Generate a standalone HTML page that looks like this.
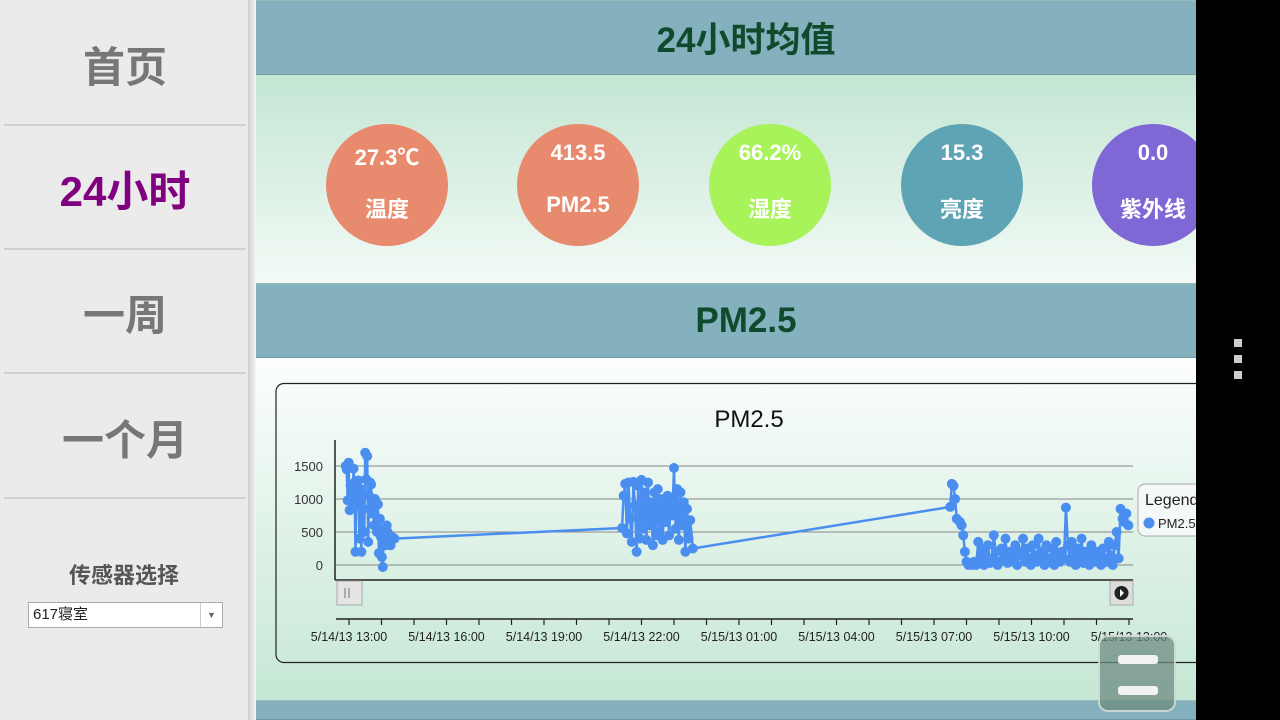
<!DOCTYPE html>
<html><head><meta charset="utf-8">
<style>
*{margin:0;padding:0;box-sizing:border-box}
html,body{width:1280px;height:720px;overflow:hidden}
body{position:relative;font-family:"Liberation Sans","Noto Sans CJK SC",sans-serif;background:#fff}
.side{position:absolute;left:0;top:0;width:248px;height:720px;background:#ebebeb}
.nav{position:absolute;left:4px;width:242px;height:122px;display:flex;align-items:center;justify-content:center;font-size:42px;font-weight:bold;color:#777;border-bottom:2px solid #d0d0d0}
.shadow{position:absolute;left:248px;top:0;width:8px;height:720px;background:linear-gradient(90deg,#cfcfcf,#f4f4f4)}
.bar{position:absolute;left:256px;width:980px;height:75px;background:#84b1bd;display:flex;align-items:center;justify-content:center;font-size:35px;font-weight:bold;color:#0f4a2c;border-top:1px solid #9bb;border-bottom:1px solid #6f9aa6;overflow:hidden}
.circ{position:absolute;width:122px;height:122px;border-radius:50%;color:#fff;font-weight:bold;font-size:22px;text-align:center}
.circ div{position:absolute;left:0;width:100%}
</style></head><body>
<div class="side">
<div class="nav" style="top:4px">首页</div>
<div class="nav" style="top:128px;color:#800080">24小时</div>
<div class="nav" style="top:252px">一周</div>
<div class="nav" style="top:377px">一个月</div>
<div style="position:absolute;left:0;width:248px;top:558px;text-align:center;font-size:22px;font-weight:bold;color:#555">传感器选择</div>
<div style="position:absolute;left:28px;top:602px;width:195px;height:26px;background:#fff;border:1px solid #aaa;font-size:15px;line-height:24px;padding-left:4px;color:#222">617寝室<span style="position:absolute;right:0;top:0;width:22px;height:24px;border-left:1px solid #ccc;font-size:9px;text-align:center;color:#666">▼</span></div>
</div>
<div class="shadow"></div>
<div class="bar" style="top:0">24小时均值</div>
<div style="position:absolute;left:256px;top:75px;width:940px;height:208px;background:linear-gradient(#c3e6d3,#f3faf6)"></div>
<div class="circ" style="left:326px;top:124px;background:#e88a6d"><div style="top:16px">27.3℃</div><div style="top:68px">温度</div></div>
<div class="circ" style="left:517px;top:124px;background:#e88a6d"><div style="top:16px">413.5</div><div style="top:68px">PM2.5</div></div>
<div class="circ" style="left:709px;top:124px;background:#a8f25a"><div style="top:16px">66.2%</div><div style="top:68px">湿度</div></div>
<div class="circ" style="left:901px;top:124px;background:#5fa4b4"><div style="top:16px">15.3</div><div style="top:68px">亮度</div></div>
<div class="circ" style="left:1092px;top:124px;background:#7f67d6"><div style="top:16px">0.0</div><div style="top:68px">紫外线</div></div>
<div class="bar" style="top:283px">PM2.5</div>
<div style="position:absolute;left:256px;top:358px;width:940px;height:342px;background:linear-gradient(#fcfefd,#c5e7d4)"></div>
<div class="bar" style="top:700px;height:20px;align-items:flex-start;padding-top:10px">温度</div>
<svg id="chart" style="position:absolute;left:0;top:0" width="1280" height="720"></svg>
<div style="position:absolute;left:1098px;top:635px;width:78px;height:77px;border-radius:10px;border:2px solid rgba(255,255,255,.6);background:rgba(110,140,130,.75)"><div style="position:absolute;left:18px;top:18px;width:40px;height:9px;border-radius:3px;background:#f2f2f2"></div><div style="position:absolute;left:18px;top:49px;width:40px;height:9px;border-radius:3px;background:#f2f2f2"></div></div>
<div style="position:absolute;left:1196px;top:0;width:84px;height:720px;background:#000">
<div style="position:absolute;left:38px;top:339px;width:8px;height:8px;background:#ccc"></div>
<div style="position:absolute;left:38px;top:355px;width:8px;height:8px;background:#ccc"></div>
<div style="position:absolute;left:38px;top:371px;width:8px;height:8px;background:#ccc"></div>
</div>
<script>
const yTicks=[0,500,1000,1500];
const xTickLabels=["5/14/13 13:00","5/14/13 16:00","5/14/13 19:00","5/14/13 22:00","5/15/13 01:00","5/15/13 04:00","5/15/13 07:00","5/15/13 10:00","5/15/13 13:00"];
const xTickHours=[1,4,7,10,13,16,19,22,25];
const times=[0.90,0.93,0.96,0.99,1.02,1.05,1.08,1.11,1.14,1.17,1.20,1.23,1.26,1.29,1.32,1.35,1.38,1.41,1.44,1.47,1.50,1.53,1.56,1.59,1.62,1.65,1.68,1.71,1.74,1.77,1.80,1.83,1.86,1.89,1.92,1.95,1.98,2.01,2.04,2.07,2.10,2.13,2.16,2.19,2.22,2.25,2.28,2.31,2.34,2.40,
9.40,9.45,9.50,9.55,9.60,9.65,9.70,9.75,9.80,9.85,9.90,9.95,10.00,10.05,10.10,10.15,10.20,10.25,10.30,10.35,10.40,10.45,10.50,10.55,10.60,10.65,10.70,10.75,10.80,10.85,10.90,10.95,11.00,11.05,11.10,11.15,11.20,11.25,11.30,11.35,11.40,11.45,11.50,11.58,
19.50,19.55,19.60,19.65,19.70,19.80,19.85,19.90,19.95,20.00,20.06,20.12,20.18,20.24,20.30,20.36,20.42,20.48,20.54,20.60,20.66,20.72,20.78,20.84,20.90,20.96,21.02,21.08,21.14,21.20,21.26,21.32,21.38,21.44,21.50,21.56,21.62,21.68,21.74,21.80,21.86,21.92,21.98,22.04,22.10,22.16,22.22,22.28,22.34,22.40,22.46,22.52,22.58,22.64,22.70,22.76,22.82,22.88,22.94,23.00,23.06,23.12,23.18,23.24,23.30,23.36,23.42,23.48,23.54,23.60,23.66,23.72,23.78,23.84,23.90,23.96,24.02,24.08,24.14,24.20,24.26,24.32,24.38,24.44,24.50,24.56,24.62,24.68,24.74,24.80,24.86,24.92,24.98];
const values=[1500,1450,980,1550,830,1200,1100,950,1460,1250,200,1150,900,1280,400,1150,200,1100,850,500,1700,1300,1650,350,1050,1250,1220,780,900,600,1000,620,500,920,180,700,430,120,-30,550,360,300,600,500,380,420,300,400,420,400,
560,1050,1230,480,1250,700,350,1260,900,200,1200,400,1290,550,1100,380,1250,600,950,300,1100,450,1150,500,1000,380,900,650,1050,450,950,750,1470,550,1150,380,1100,600,950,200,850,400,680,250,
880,1230,1200,1000,700,650,600,450,200,50,0,30,0,50,0,350,80,250,0,120,300,30,100,450,200,0,50,250,100,400,30,200,100,50,300,0,200,150,400,50,250,100,0,300,150,50,400,100,200,0,300,50,100,250,0,350,150,50,200,100,870,300,50,350,150,0,250,100,400,30,200,100,0,300,150,50,200,100,0,250,100,50,350,150,0,300,500,100,850,700,650,780,600];
const svg=document.getElementById('chart');const NS='http://www.w3.org/2000/svg';
function el(t,a,p){const e=document.createElementNS(NS,t);for(const k in a)e.setAttribute(k,a[k]);(p||svg).appendChild(e);return e;}
const X=h=>316.5+32.5*h, Y=v=>565-v*0.066;
const box=el('rect',{x:276,y:383.5,width:940,height:279,rx:8,fill:'none',stroke:'#222','stroke-width':1.2});


const tt=el('text',{x:749,y:427,'text-anchor':'middle','font-size':24,fill:'#111','font-family':'Liberation Sans'});tt.textContent='PM2.5';


yTicks.forEach(v=>{el('line',{x1:336,x2:1133,y1:Y(v),y2:Y(v),stroke:'#888','stroke-width':1});
const t=el('text',{x:323,y:Y(v)+5,'text-anchor':'end','font-size':13,fill:'#333','font-family':'Liberation Sans'});t.textContent=v;

});
el('line',{x1:335,x2:335,y1:440,y2:580,stroke:'#222','stroke-width':1.5});
el('line',{x1:335,x2:1133,y1:580,y2:580,stroke:'#222','stroke-width':1.5});
el('line',{x1:336,x2:1133,y1:619,y2:619,stroke:'#222','stroke-width':1.5});
for(let h=1;h<=25;h++)el('line',{x1:X(h),x2:X(h),y1:619,y2:625,stroke:'#222','stroke-width':1.2});
xTickLabels.forEach((s,i)=>{const t=el('text',{x:X(xTickHours[i]),y:641,'text-anchor':'middle','font-size':12.5,fill:'#222','font-family':'Liberation Sans'});t.textContent=s;

});
const hnd=el('rect',{x:337,y:581,width:25,height:24,fill:'#e4e4e4',stroke:'#aaa'});


el('line',{x1:345,x2:345,y1:588,y2:598,stroke:'#999','stroke-width':1.5});
el('line',{x1:349,x2:349,y1:588,y2:598,stroke:'#999','stroke-width':1.5});
const rb=el('rect',{x:1110,y:581,width:23,height:24,fill:'#ddd',stroke:'#aaa'});


el('circle',{cx:1121.5,cy:593,r:7,fill:'#222'});el('path',{d:'M1120 589 L1124 593 L1120 597Z',fill:'#fff'});
const line=el('polyline',{points:times.map((t,i)=>X(t)+','+Y(values[i])).join(' '),fill:'none',stroke:'#4a8ff0','stroke-width':2.5});


times.forEach((t,i)=>{const c=el('circle',{cx:X(t),cy:Y(values[i]),r:5,fill:'#4a8ff0'});

});
const lg=el('rect',{x:1138,y:484,width:90,height:52,rx:7,fill:'#f4f8f6',stroke:'#aaa'});


const lt=el('text',{x:1145,y:505,'font-size':16,fill:'#222','font-family':'Liberation Sans'});lt.textContent='Legend';
el('circle',{cx:1149,cy:523,r:5.5,fill:'#4a8ff0'});
const le=el('text',{x:1158,y:528,'font-size':13,fill:'#222','font-family':'Liberation Sans'});le.textContent='PM2.5';


</script>
</body></html>
